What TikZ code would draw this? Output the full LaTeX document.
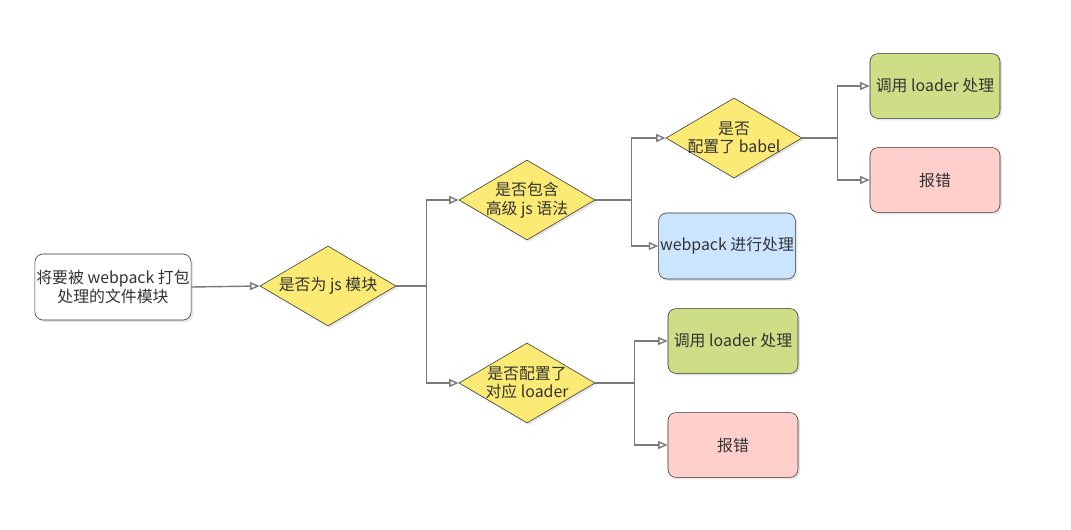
\documentclass[tikz,border=0pt]{standalone}
\usepackage{fontspec}
\setmainfont{Noto Sans CJK SC}
\usetikzlibrary{positioning,arrows.meta,shapes.geometric,shadows}
\definecolor{txtgray}{HTML}{333333}
\definecolor{linegray}{HTML}{7A7A7A}
\definecolor{decfill}{HTML}{FBEA73}
\definecolor{okfill}{HTML}{CDDE87}
\definecolor{errfill}{HTML}{FFD0CB}
\definecolor{passfill}{HTML}{CCE5FF}
\tikzset{
  flowarrow/.style={-{Triangle[open,length=2.4mm,width=2mm]}, draw=linegray, line width=1pt},
  softshadow/.style={drop shadow={shadow xshift=0.05cm, shadow yshift=-0.05cm, opacity=0.2}},
  startbox/.style={draw=txtgray, rounded corners=0.2cm, fill=white, inner xsep=1pt, minimum width=3.9cm, minimum height=1.65cm, align=center, softshadow},
  decision/.style={diamond, draw=txtgray, fill=decfill, aspect=1.7, inner sep=-4pt, minimum width=3.4cm, minimum height=2cm, align=center, softshadow},
  okbox/.style={draw=txtgray, rounded corners=0.2cm, fill=okfill, minimum width=3.25cm, minimum height=1.62cm, align=center, softshadow},
  errbox/.style={draw=txtgray, rounded corners=0.2cm, fill=errfill, minimum width=3.25cm, minimum height=1.62cm, align=center, softshadow},
  passbox/.style={draw=txtgray, rounded corners=0.2cm, fill=passfill, inner xsep=1pt, minimum width=3.25cm, minimum height=1.65cm, align=center, softshadow}
}
\begin{document}
\begin{tikzpicture}[x=0.025cm, y=-0.025cm, every node/.style={font=\fontsize{11.3}{13.2}\selectfont, text=txtgray}]
  \useasboundingbox (0,0) rectangle (1071,530);
  \node[startbox] (source) at (113,287) {将要被 webpack 打包\\处理的文件模块};
  \node[decision] (isjs) at (328,286) {是否为 js 模块};
  \node[decision] (hasadv) at (527,200) {是否包含\\高级 js 语法};
  \node[decision] (hasloader) at (527,383) {是否配置了\\对应 loader};
  \node[decision] (hasbabel) at (734,138) {是否\\配置了 babel};
  \node[passbox] (wpdo) at (727,246) {webpack 进行处理};
  \node[okbox] (useloadera) at (935,86) {调用 loader 处理};
  \node[errbox] (errora) at (935,180) {报错};
  \node[okbox] (useloaderb) at (733,341) {调用 loader 处理};
  \node[errbox] (errorb) at (733,445) {报错};
  \draw[flowarrow] (source.east) -- (isjs.west);
  \draw[flowarrow] (isjs.east) -- ++(30,0) |- (hasadv.west);
  \draw[flowarrow] (isjs.east) -- ++(30,0) |- (hasloader.west);
  \draw[flowarrow] (hasadv.east) -- ++(36,0) |- (hasbabel.west);
  \draw[flowarrow] (hasadv.east) -- ++(36,0) |- (wpdo.west);
  \draw[flowarrow] (hasbabel.east) -- ++(35,0) |- (useloadera.west);
  \draw[flowarrow] (hasbabel.east) -- ++(35,0) |- (errora.west);
  \draw[flowarrow] (hasloader.east) -- ++(39,0) |- (useloaderb.west);
  \draw[flowarrow] (hasloader.east) -- ++(39,0) |- (errorb.west);
\end{tikzpicture}
\end{document}
